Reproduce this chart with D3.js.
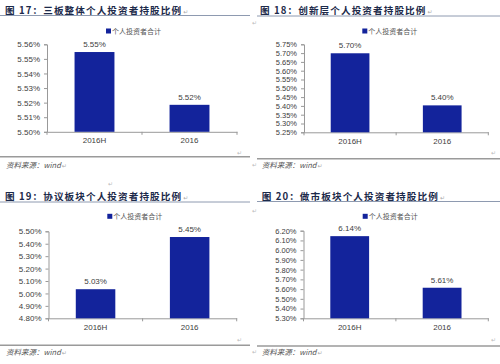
<!DOCTYPE html>
<html>
<head>
<meta charset="utf-8">
<script src="https://cdn.jsdelivr.net/npm/d3@7"></script>
<style>
  html, body { margin: 0; padding: 0; background: #fff; }
  svg { display: block; }
</style>
</head>
<body>
<script>
// ---- data ----
const categories = ["2016H", "2016"];
const titles = [
  "图 17：三板整体个人投资者持股比例",
  "图 18：创新层个人投资者持股比例",
  "图 19：协议板块个人投资者持股比例",
  "图 20：做市板块个人投资者持股比例"
];
const legendLabel = "个人投资者合计";
const sourceText = "资料来源：wind";
const values17 = [5.5547, 5.5185];
const values18 = [5.699, 5.403];
const values19 = [5.034, 5.454];
const values20 = [6.144, 5.614];
const ticks17 = [5.50, 5.51, 5.52, 5.53, 5.54, 5.55, 5.56];
const ticks18 = [5.25, 5.30, 5.35, 5.40, 5.45, 5.50, 5.55, 5.60, 5.65, 5.70, 5.75];
const ticks19 = [4.80, 4.90, 5.00, 5.10, 5.20, 5.30, 5.40, 5.50];
const ticks20 = [5.30, 5.40, 5.50, 5.60, 5.70, 5.80, 5.90, 6.00, 6.10, 6.20];

const seriesValues = [values17, values18, values19, values20];
const seriesTicks = [ticks17, ticks18, ticks19, ticks20];

// ---- layout ----
const layouts = [
  { ox: 0,   oy: 0,   titleX: 5,  titleY: 13.5, ulY: 15.5, ulX0: 0, ulX1: 250,
    legX: 106, legY: 31, axisX: 47, xRight: 237, yTop: 44.3, yBottom: 131.8,
    botY: 156.7, botX0: 0, botX1: 250, srcX: 6, srcY: 167.5, tickFont: 8,
    marks: [[237, 155]] },
  { ox: 250, oy: 0,   titleX: 10, titleY: 13.5, ulY: 16, ulX0: 7, ulX1: 250,
    legX: 112.3, legY: 31, axisX: 54, xRight: 238.3, yTop: 44.3, yBottom: 132.3,
    botY: 158.7, botX0: 7, botX1: 250, srcX: 11.7, srcY: 167.5, tickFont: 7.5,
    marks: [[241, 155], [2, 25], [2, 167]] },
  { ox: 0,   oy: 182, titleX: 5,  titleY: 17.5, ulY: 20, ulX0: 0, ulX1: 250,
    legX: 107.3, legY: 34.3, axisX: 48.5, xRight: 236.7, yTop: 49.3, yBottom: 136.3,
    botY: 163.3, botX0: 0, botX1: 250, srcX: 6, srcY: 172.8, tickFont: 8,
    marks: [[237, 160], [108, 4]] },
  { ox: 250, oy: 182, titleX: 11.7, titleY: 17.5, ulY: 19.5, ulX0: 7, ulX1: 250,
    legX: 112.7, legY: 34.3, axisX: 53.5, xRight: 238.3, yTop: 48.7, yBottom: 136.3,
    botY: 164, botX0: 7, botX1: 250, srcX: 11.7, srcY: 172.8, tickFont: 7.5,
    marks: [[241, 160], [2, 31], [2, 172]] }
];

const barColor = "#13239b";
const textColor = "#404040";
const fmt = d3.format(".2f");

const svg = d3.select("body").append("svg")
  .attr("width", 500).attr("height", 364)
  .style("font-family", "Liberation Sans, Arial, sans-serif");

svg.append("rect").attr("width", 500).attr("height", 364).attr("fill", "#fff");

layouts.forEach((p, i) => {
  const vals = seriesValues[i];
  const ticks = seriesTicks[i];
  const g = svg.append("g").attr("transform", `translate(${p.ox},${p.oy})`);

  // title
  const t = g.append("text")
    .attr("x", p.titleX).attr("y", p.titleY)
    .attr("font-family", "Noto Sans CJK SC, sans-serif")
    .attr("font-weight", "bold")
    .attr("font-size", 9.6)
    .attr("letter-spacing", 1.1)
    .attr("fill", "#1c2a4a")
    .text(titles[i]);
  g.append("text")
    .attr("x", p.titleX + t.node().getComputedTextLength() + 1).attr("y", p.titleY)
    .attr("font-size", 6).attr("fill", "#aaa")
    .attr("font-family", "DejaVu Sans, sans-serif")
    .text("↵");
  g.append("line")
    .attr("x1", p.ulX0).attr("x2", p.ulX1).attr("y1", p.ulY).attr("y2", p.ulY)
    .attr("stroke", "#8e9ab0").attr("stroke-width", 1);

  // scales
  const y = d3.scaleLinear()
    .domain([ticks[0], ticks[ticks.length - 1]])
    .range([p.yBottom, p.yTop]);
  const x = d3.scaleBand()
    .domain(categories)
    .range([p.axisX, p.xRight])
    .paddingInner(0.58).paddingOuter(0.29);

  // y axis
  const yAxis = g.append("g")
    .attr("transform", `translate(${p.axisX},0)`)
    .call(d3.axisLeft(y).tickValues(ticks).tickFormat(d => fmt(d) + "%")
      .tickSize(3).tickSizeOuter(3).tickPadding(4));
  yAxis.select(".domain").attr("stroke", "#999");
  yAxis.selectAll(".tick line").attr("stroke", "#999");
  yAxis.selectAll(".tick text")
    .attr("font-size", p.tickFont).attr("fill", textColor)
    .attr("font-family", "Liberation Sans, Arial, sans-serif");

  // x axis
  const xAxis = g.append("g")
    .attr("transform", `translate(0,${p.yBottom})`)
    .call(d3.axisBottom(x).tickSize(0).tickPadding(6));
  xAxis.select(".domain").attr("stroke", "#999");
  xAxis.selectAll(".tick text")
    .attr("font-size", 8).attr("fill", textColor)
    .attr("font-family", "Liberation Sans, Arial, sans-serif");
  const bounds = [p.axisX, p.axisX + (p.xRight - p.axisX) / 2, p.xRight];
  g.selectAll(".xb").data(bounds).enter().append("line")
    .attr("x1", d => d).attr("x2", d => d)
    .attr("y1", p.yBottom).attr("y2", p.yBottom + 3)
    .attr("stroke", "#999");

  // bars
  g.selectAll(".bar").data(categories).enter().append("rect")
    .attr("x", c => x(c))
    .attr("width", x.bandwidth())
    .attr("y", (c, j) => y(vals[j]))
    .attr("height", (c, j) => p.yBottom - y(vals[j]))
    .attr("fill", barColor);

  // value labels
  g.selectAll(".vl").data(categories).enter().append("text")
    .attr("x", c => x(c) + x.bandwidth() / 2)
    .attr("y", (c, j) => y(vals[j]) - 5)
    .attr("text-anchor", "middle")
    .attr("font-size", 8).attr("fill", textColor)
    .text((c, j) => fmt(vals[j]) + "%");

  // legend
  g.append("rect")
    .attr("x", p.legX).attr("y", p.legY - 2.5)
    .attr("width", 5).attr("height", 5)
    .attr("fill", barColor);
  g.append("text")
    .attr("x", p.legX + 6).attr("y", p.legY + 2.6)
    .attr("font-family", "Noto Sans CJK SC, sans-serif")
    .attr("font-size", 7).attr("fill", "#555")
    .text(legendLabel);

  // bottom separator and source
  g.append("line")
    .attr("x1", p.botX0).attr("x2", p.botX1).attr("y1", p.botY).attr("y2", p.botY)
    .attr("stroke", "#9a9a9a").attr("stroke-width", 1.4);
  const s = g.append("text")
    .attr("x", p.srcX).attr("y", p.srcY)
    .attr("font-family", "Noto Sans CJK SC, sans-serif")
    .attr("font-size", 7.5).attr("font-style", "italic")
    .attr("fill", "#555")
    .text(sourceText);
  g.append("text")
    .attr("x", p.srcX + s.node().getComputedTextLength() + 1).attr("y", p.srcY)
    .attr("font-size", 6).attr("fill", "#aaa")
    .attr("font-family", "DejaVu Sans, sans-serif")
    .text("↵");

  // stray paragraph marks
  g.selectAll(".pm").data(p.marks).enter().append("text")
    .attr("x", d => d[0]).attr("y", d => d[1])
    .attr("font-size", 6).attr("fill", "#bbb")
    .attr("font-family", "DejaVu Sans, sans-serif")
    .text("↵");
});
</script>
</body>
</html>
